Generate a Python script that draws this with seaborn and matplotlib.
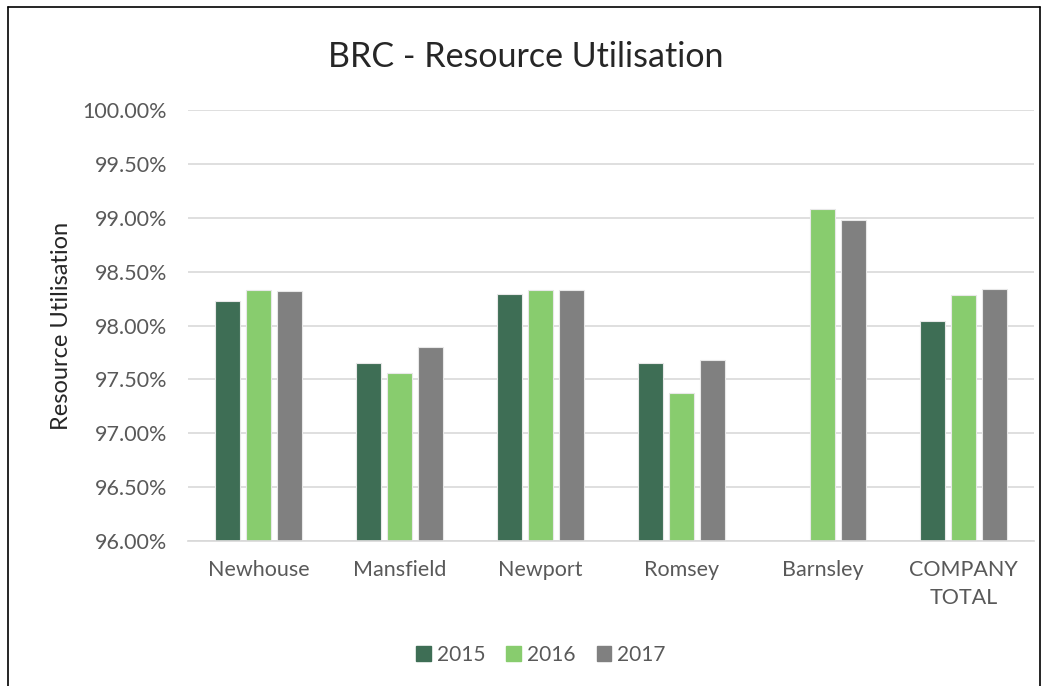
import matplotlib
matplotlib.use("Agg")
import matplotlib.pyplot as plt
import matplotlib.ticker as mticker
from matplotlib.lines import Line2D
import numpy as np
import pandas as pd
import seaborn as sns

# data
sites = ["Newhouse", "Mansfield", "Newport", "Romsey", "Barnsley", "COMPANY\nTOTAL"]
years = ["2015", "2016", "2017"]
util_2015 = [98.23, 97.65, 98.29, 97.65, np.nan, 98.04]
util_2016 = [98.33, 97.56, 98.33, 97.37, 99.08, 98.28]
util_2017 = [98.32, 97.80, 98.33, 97.68, 98.98, 98.34]
colours = ["#3E6E55", "#88CC6E", "#808080"]

df = pd.DataFrame({
    "site": sites * 3,
    "year": [y for y in years for _ in sites],
    "value": util_2015 + util_2016 + util_2017,
})

sns.set_theme(style="white")
plt.rcParams["font.family"] = ["Lato", "DejaVu Sans"]
txt = "#595959"

fig = plt.figure(figsize=(10.51, 6.86), dpi=100)
ax = fig.add_axes([188 / 1051, 1 - 541 / 686, (1034 - 188) / 1051, (541 - 110) / 686])

sns.barplot(data=df, x="site", y="value", hue="year", palette=colours,
            saturation=1, width=0.666, gap=0.2, ax=ax, edgecolor="#e8e8e8",
            linewidth=0.8, legend=True)
# bars start at 96 (the axis floor), so set bottom
for p in ax.patches:
    h = p.get_height()
    if np.isfinite(h) and h > 0:
        p.set_y(96.0)
        p.set_height(h - 96.0)

ax.set_ylim(96, 100)
ax.set_xlim(-0.5, 5.5)
ax.yaxis.set_major_locator(mticker.MultipleLocator(0.5))
ax.yaxis.set_major_formatter(mticker.FuncFormatter(lambda v, p: f"{v:.2f}%"))
ax.grid(axis="y", color="#d9d9d9", linewidth=1.2)
ax.set_axisbelow(True)
for s in ["top", "right", "left"]:
    ax.spines[s].set_visible(False)
ax.spines["bottom"].set_color("#d9d9d9")
ax.tick_params(axis="both", length=0, labelsize=15.5, colors=txt)
ax.tick_params(axis="y", pad=15)
ax.tick_params(axis="x", pad=14)
for lbl in ax.get_xticklabels():
    lbl.set_linespacing(1.45)
ax.set_xlabel("")
ax.set_ylabel("Resource Utilisation", fontsize=17, color="#262626", labelpad=8)

fig.suptitle("BRC - Resource Utilisation", fontsize=24.5, color="#262626", y=1 - 57 / 686, va="center")

handles = [plt.Rectangle((0, 0), 1, 1, color=c) for c in colours]
ax.get_legend().remove()
fig.legend(handles, years, loc="center", bbox_to_anchor=(541 / 1051, 1 - 655 / 686),
           ncol=3, frameon=False, fontsize=15, labelcolor=txt, handlelength=0.7,
           handleheight=0.7, handletextpad=0.3, columnspacing=1.0)

# chart border
for xs, ys in [([8, 8], [686, 7]), ([8, 1040], [7, 7]), ([1040, 1040], [7, 686])]:
    fig.add_artist(Line2D([x / 1051 for x in xs], [1 - y / 686 for y in ys],
                          color="black", linewidth=1.2, transform=fig.transFigure))

fig.savefig("out.png", dpi=100)
